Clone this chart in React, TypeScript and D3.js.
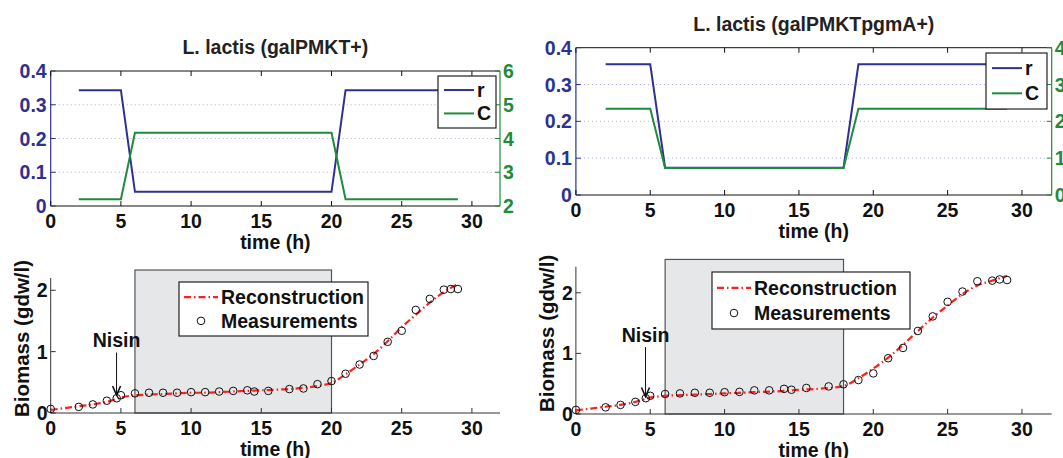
import React from 'react';
import * as d3 from 'd3';

// top panels: control inputs r and C
const stepTimesL = [2, 5, 6, 20, 21, 29];
const rL = [0.343, 0.343, 0.042, 0.042, 0.343, 0.343];
const cL = [2.2, 2.2, 4.17, 4.17, 2.2, 2.2];

const stepTimesR = [2, 5, 6, 18, 19, 29];
const rR = [0.355, 0.355, 0.074, 0.074, 0.355, 0.355];
const cR = [2.345, 2.345, 0.736, 0.736, 2.345, 2.345];

// bottom panels: biomass
const measTimes = [0, 2, 3, 4, 4.7, 5, 6, 7, 8, 9, 10, 11, 12, 13, 14, 14.5, 15.5, 17, 18, 19, 20, 21, 22, 23, 24, 25, 26, 27, 28, 28.5, 29];
const measL = [0.066, 0.1, 0.14, 0.2, 0.24, 0.29, 0.32, 0.33, 0.33, 0.33, 0.34, 0.34, 0.35, 0.36, 0.37, 0.35, 0.36, 0.39, 0.4, 0.47, 0.52, 0.64, 0.79, 0.93, 1.16, 1.34, 1.68, 1.86, 2.01, 2.02, 2.02];
const measR = [0.067, 0.11, 0.15, 0.2, 0.26, 0.3, 0.33, 0.34, 0.35, 0.35, 0.36, 0.365, 0.39, 0.39, 0.415, 0.4, 0.43, 0.455, 0.49, 0.56, 0.67, 0.92, 1.09, 1.37, 1.61, 1.85, 2.02, 2.19, 2.2, 2.22, 2.21];

const reconTimes = [0, 1, 2, 3, 4, 5, 6, 7, 8, 9, 10, 11, 12, 13, 14, 15, 16, 17, 18, 19, 20, 21, 22, 23, 24, 25, 26, 27, 28, 29];
const reconL = [0.05, 0.08, 0.11, 0.14, 0.18, 0.25, 0.29, 0.3, 0.31, 0.32, 0.33, 0.33, 0.34, 0.35, 0.36, 0.37, 0.38, 0.39, 0.41, 0.44, 0.49, 0.63, 0.79, 0.96, 1.17, 1.4, 1.6, 1.8, 1.97, 2.1];
const reconR = [0.06, 0.09, 0.12, 0.15, 0.2, 0.27, 0.3, 0.31, 0.32, 0.33, 0.34, 0.35, 0.36, 0.37, 0.38, 0.4, 0.41, 0.43, 0.46, 0.59, 0.75, 0.93, 1.14, 1.37, 1.59, 1.79, 1.98, 2.12, 2.2, 2.28];

const xTicks = [0, 5, 10, 15, 20, 25, 30];
const rTicks = [0, 0.1, 0.2, 0.3, 0.4];
const cTicksL = [2, 3, 4, 5, 6];
const cTicksR = [0, 1, 2, 3, 4];
const bioTicks = [0, 1, 2];

const BLUE = '#2e3192';
const GREEN = '#1f8b3b';
const RED = '#ff1f1f';
const FONT = '"Liberation Sans", Arial, Helvetica, sans-serif';
const FS = 19.5;

type TopProps = {
  left: number; right: number; top: number; bottom: number;
  title: string; times: number[]; r: number[]; c: number[];
  cDomain: [number, number]; cTicks: number[];
  legend: { x: number; y: number; w: number; h: number };
};

function TopPanel(p: TopProps) {
  const x = d3.scaleLinear().domain([0, 32]).range([p.left, p.right]);
  const y = d3.scaleLinear().domain([0, 0.4]).range([p.bottom, p.top]);
  const y2 = d3.scaleLinear().domain(p.cDomain).range([p.bottom, p.top]);
  const lineR = d3.line<number>().x((_, i) => x(p.times[i])).y(d => y(d));
  const lineC = d3.line<number>().x((_, i) => x(p.times[i])).y(d => y2(d));
  const lg = p.legend;
  return (
    <g>
      <text x={(p.left + p.right) / 2} y={p.top - 17} textAnchor="middle" fontSize={FS} fontWeight="bold" fill="#222">{p.title}</text>
      {rTicks.slice(1, 4).map(t => (
        <line key={'g' + t} x1={p.left} x2={p.right} y1={y(t)} y2={y(t)} stroke="#a9acd8" strokeWidth={1} strokeDasharray="1,3" />
      ))}
      <path d={lineR(p.r) || ''} fill="none" stroke={BLUE} strokeWidth={2} />
      <path d={lineC(p.c) || ''} fill="none" stroke={GREEN} strokeWidth={2} />
      {/* frame */}
      <line x1={p.left} x2={p.right} y1={p.top} y2={p.top} stroke="#111" />
      <line x1={p.left} x2={p.right} y1={p.bottom} y2={p.bottom} stroke="#111" />
      <line x1={p.left} x2={p.left} y1={p.top} y2={p.bottom} stroke={BLUE} strokeWidth={1.2} />
      <line x1={p.right} x2={p.right} y1={p.top} y2={p.bottom} stroke={GREEN} strokeWidth={1.2} />
      {xTicks.map(t => (
        <g key={'x' + t}>
          <line x1={x(t)} x2={x(t)} y1={p.bottom} y2={p.bottom - 5} stroke="#111" />
          <line x1={x(t)} x2={x(t)} y1={p.top} y2={p.top + 5} stroke="#111" />
          <text x={x(t)} y={p.bottom + 22} textAnchor="middle" fontSize={FS} fontWeight="bold" fill="#111">{t}</text>
        </g>
      ))}
      {rTicks.map(t => (
        <g key={'r' + t}>
          <line x1={p.left} x2={p.left + 5} y1={y(t)} y2={y(t)} stroke={BLUE} />
          <text x={p.left - 4} y={y(t)} dy="0.36em" textAnchor="end" fontSize={FS} fontWeight="bold" fill={BLUE}>{t}</text>
        </g>
      ))}
      {p.cTicks.map(t => (
        <g key={'c' + t}>
          <line x1={p.right} x2={p.right - 5} y1={y2(t)} y2={y2(t)} stroke={GREEN} />
          <text x={p.right + 3} y={y2(t)} dy="0.36em" textAnchor="start" fontSize={FS} fontWeight="bold" fill={GREEN}>{t}</text>
        </g>
      ))}
      <text x={(p.left + p.right) / 2} y={p.bottom + 43} textAnchor="middle" fontSize={FS} fontWeight="bold" fill="#111">time (h)</text>
      <rect x={lg.x} y={lg.y} width={lg.w} height={lg.h} fill="#fff" stroke="#222" strokeWidth={1.2} />
      <line x1={lg.x + 6} x2={lg.x + 36} y1={lg.y + lg.h * 0.27} y2={lg.y + lg.h * 0.27} stroke={BLUE} strokeWidth={2} />
      <line x1={lg.x + 6} x2={lg.x + 36} y1={lg.y + lg.h * 0.72} y2={lg.y + lg.h * 0.72} stroke={GREEN} strokeWidth={2} />
      <text x={lg.x + 39} y={lg.y + lg.h * 0.27} dy="0.36em" fontSize={FS} fontWeight="bold" fill="#111">r</text>
      <text x={lg.x + 39} y={lg.y + lg.h * 0.72} dy="0.36em" fontSize={FS} fontWeight="bold" fill="#111">C</text>
    </g>
  );
}

type BottomProps = {
  left: number; right: number; top: number; bottom: number; yMax: number;
  shade: [number, number]; shadeTop: number; meas: number[]; recon: number[];
  nisin: { t: number; textY: number; y1: number; y2: number };
  legend: { x: number; y: number; w: number; h: number };
};

function BottomPanel(p: BottomProps) {
  const x = d3.scaleLinear().domain([0, 32]).range([p.left, p.right]);
  const y = d3.scaleLinear().domain([0, p.yMax]).range([p.bottom, p.top]);
  const line = d3.line<number>().x((_, i) => x(reconTimes[i])).y(d => y(d)).curve(d3.curveMonotoneX);
  const lg = p.legend;
  const nx = x(p.nisin.t);
  const row1 = lg.y + lg.h * 0.28;
  const row2 = lg.y + lg.h * 0.72;
  return (
    <g>
      <rect x={x(p.shade[0])} y={y(p.shadeTop)} width={x(p.shade[1]) - x(p.shade[0])} height={y(0) - y(p.shadeTop)} fill="#e6e7e9" stroke="#555" strokeWidth={1.2} />
      <line x1={p.left} x2={p.right} y1={p.bottom} y2={p.bottom} stroke="#333" />
      <line x1={p.left} x2={p.left} y1={p.top} y2={p.bottom} stroke="#333" />
      {xTicks.map(t => (
        <g key={'x' + t}>
          <line x1={x(t)} x2={x(t)} y1={p.bottom} y2={p.bottom - 5} stroke="#333" />
          <text x={x(t)} y={p.bottom + 21.5} textAnchor="middle" fontSize={FS} fontWeight="bold" fill="#111">{t}</text>
        </g>
      ))}
      {bioTicks.map(t => (
        <g key={'y' + t}>
          <line x1={p.left} x2={p.left + 5} y1={y(t)} y2={y(t)} stroke="#333" />
          <text x={p.left - 3} y={y(t)} dy="0.36em" textAnchor="end" fontSize={FS} fontWeight="bold" fill="#111">{t}</text>
        </g>
      ))}
      <path d={line(p.recon) || ''} fill="none" stroke={RED} strokeWidth={2.2} strokeDasharray="7,3,1.5,3" />
      {p.meas.map((v, i) => (
        <circle key={i} cx={x(measTimes[i])} cy={y(v)} r={3.8} fill="none" stroke="#111" strokeWidth={1} />
      ))}
      <text x={nx} y={p.nisin.textY} textAnchor="middle" fontSize={FS} fontWeight="bold" fill="#111">Nisin</text>
      <line x1={nx} x2={nx} y1={p.nisin.y1} y2={p.nisin.y2} stroke="#111" strokeWidth={1} />
      <path d={`M${nx - 4},${p.nisin.y2 - 9} L${nx},${p.nisin.y2} L${nx + 4},${p.nisin.y2 - 9}`} fill="none" stroke="#111" strokeWidth={1.6} />
      <text x={(p.left + p.right) / 2} y={p.bottom + 42.5} textAnchor="middle" fontSize={FS} fontWeight="bold" fill="#111">time (h)</text>
      <text transform={`translate(${p.left - 22},${(p.top + p.bottom) / 2 - 7}) rotate(-90)`} textAnchor="middle" fontSize={20.5} fontWeight="bold" fill="#111">Biomass (gdw/l)</text>
      <rect x={lg.x} y={lg.y} width={lg.w} height={lg.h} fill="#fff" stroke="#222" strokeWidth={1.2} />
      <line x1={lg.x + 5} x2={lg.x + 39} y1={row1} y2={row1} stroke={RED} strokeWidth={2.2} strokeDasharray="7,3,1.5,3" />
      <circle cx={lg.x + 22} cy={row2} r={3.8} fill="none" stroke="#111" />
      <text x={lg.x + 42} y={row1} dy="0.36em" fontSize={FS} fontWeight="bold" fill="#111">Reconstruction</text>
      <text x={lg.x + 42} y={row2} dy="0.36em" fontSize={FS} fontWeight="bold" fill="#111">Measurements</text>
    </g>
  );
}

export default function App() {
  return (
    <svg width={1063} height={458} style={{ position: 'absolute', left: 0, top: 0, background: '#fff' }} fontFamily={FONT}>
      <TopPanel left={50.7} right={500} top={71} bottom={206} title="L. lactis (galPMKT+)"
        times={stepTimesL} r={rL} c={cL} cDomain={[2, 6]} cTicks={cTicksL}
        legend={{ x: 438, y: 76, w: 58, h: 52 }} />
      <TopPanel left={575.9} right={1051.7} top={47.7} bottom={195} title="L. lactis (galPMKTpgmA+)"
        times={stepTimesR} r={rR} c={cR} cDomain={[0, 4]} cTicks={cTicksR}
        legend={{ x: 986, y: 53, w: 61, h: 56 }} />
      <BottomPanel left={50.7} right={500} top={278} bottom={413} yMax={2.2}
        shade={[6, 20]} shadeTop={2.33} meas={measL} recon={reconL}
        nisin={{ t: 4.69, textY: 346.5, y1: 352.5, y2: 395 }}
        legend={{ x: 179, y: 282, w: 189, h: 54 }} />
      <BottomPanel left={575.9} right={1051.7} top={266.7} bottom={414} yMax={2.43}
        shade={[6, 18]} shadeTop={2.55} meas={measR} recon={reconR}
        nisin={{ t: 4.68, textY: 342, y1: 347, y2: 396.5 }}
        legend={{ x: 712, y: 272, w: 198, h: 57 }} />
    </svg>
  );
}
